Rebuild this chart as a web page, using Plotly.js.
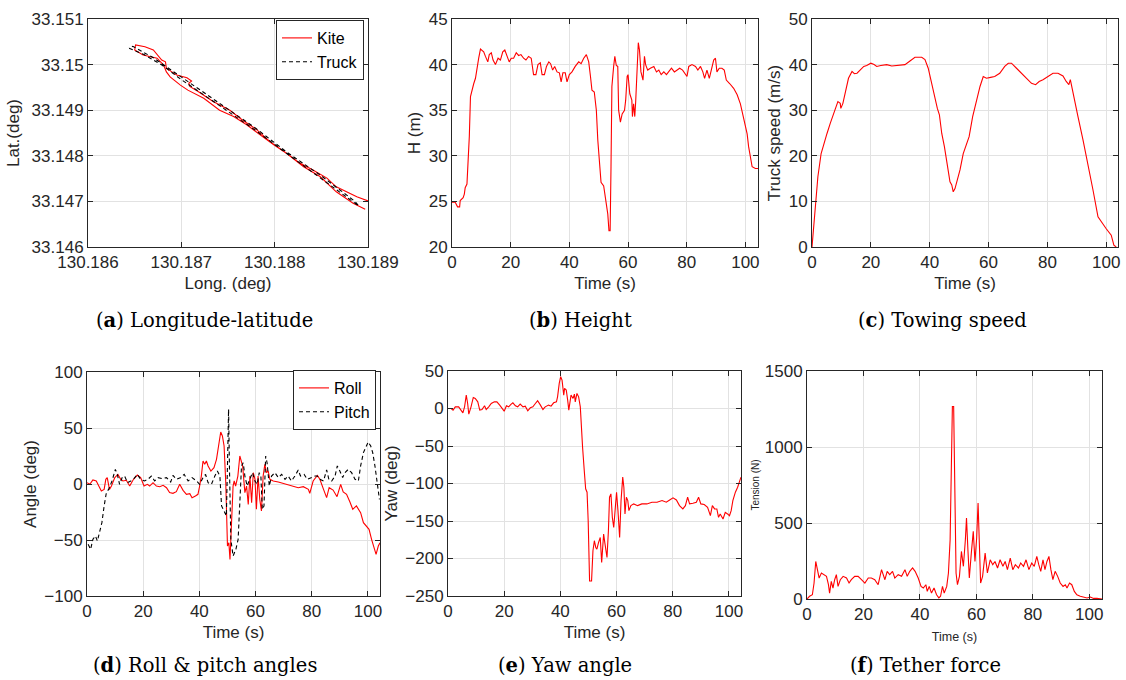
<!DOCTYPE html>
<html>
<head>
<meta charset="utf-8">
<script src="https://cdn.plot.ly/plotly-3.0.1.min.js"></script>
<style>html,body{margin:0;padding:0;background:#fff;}#chart{width:1126px;height:680px;}</style>
</head>
<body>
<div id="chart"></div>
<script>
// ---------- (a) Longitude-latitude ----------
const kiteLong = [130.18897,130.18884,130.18866,130.18849,130.18831,130.18813,130.18799,130.18784,130.18770,130.18756,130.18741,130.18724,130.18707,130.18699,130.18688,130.18684,130.18681,130.18674,130.18659,130.18650,130.18651,
  130.18661,130.18670,130.18679,130.18683,130.18684,130.18695,130.18706,130.18711,130.18708,130.18709,130.18718,130.18734,130.18752,130.18765,130.18781,130.18795,130.18813,130.18827,130.18841,130.18856,130.18866,130.18877,130.18888,130.18900];
const kiteLat = [33.14683,33.14696,33.14721,33.14754,33.14776,33.14805,33.14824,33.14846,33.14868,33.14886,33.14900,33.14926,33.14944,33.14955,33.14973,33.14984,33.14999,33.15014,33.15021,33.15032,33.15043,
  33.15039,33.15032,33.15010,33.15006,33.14992,33.14977,33.14971,33.14964,33.14959,33.14952,33.14941,33.14919,33.14900,33.14879,33.14857,33.14831,33.14805,33.14784,33.14769,33.14751,33.14732,33.14721,33.14710,33.14701];
const truckLong = [130.18644,130.18660,130.18680,130.18700,130.18741,130.18780,130.18813,130.18850,130.18890,130.18886,130.18850,130.18813,130.18780,130.18741,130.18700,130.18670,130.18648,130.18644];
const truckLat = [33.15036,33.15022,33.14998,33.14967,33.14910,33.14855,33.14805,33.14750,33.14690,33.14700,33.14756,33.14808,33.14860,33.14915,33.14972,33.15015,33.15040,33.15036];
const longTicks = [130.186, 130.187, 130.188, 130.189];
const longTickText = ['130.186', '130.187', '130.188', '130.189'];
const latTicks = [33.146, 33.147, 33.148, 33.149, 33.150, 33.151];
const latTickText = ['33.146', '33.147', '33.148', '33.149', '33.15', '33.151'];

// ---------- (b) Height ----------
const heightT = [0,1.1,1.9,2.6,2.8,3.8,4.2,4.5,5.1,5.5,5.9,6.3,6.8,7.4,8.0,8.5,9.1,9.7,10.8,11.4,12.2,12.7,13.4,14.0,14.8,15.7,16.5,17.3,18.0,18.8,19.5,20.2,21.0,21.9,22.7,23.5,24.4,25.2,26.1,27.0,27.8,28.6,29.3,30.1,30.7,31.5,32.2,33.0,33.6,34.3,35.0,35.8,36.6,37.2,37.8,38.6,39.2,40.0,40.9,42.0,43.2,44.0,44.9,45.8,46.6,47.2,47.7,48.5,49.2,49.7,50.2,50.8,51.7,52.5,53.1,53.5,53.9,54.2,54.5,55.1,55.5,56.0,56.5,56.8,57.4,58.0,58.8,59.2,59.7,60.0,60.6,61.3,61.5,61.9,62.3,62.6,63.1,63.5,63.9,64.4,65.1,65.6,66.0,66.7,67.6,68.8,69.7,70.5,71.3,72.2,73.1,73.9,74.8,75.8,76.7,77.6,78.6,79.5,80.1,80.7,81.8,83.0,83.8,84.7,85.5,86.1,86.9,87.7,88.6,89.2,89.8,90.3,91.1,92.0,92.8,93.5,94.7,96.0,97.2,98.3,99.2,100.0,100.6,101.1,101.7,102.3,103.4,104.3];
const heightH = [24.9,24.9,24.4,24.4,25.1,25.4,25.8,26.5,26.9,29.5,32.1,36.5,37.2,37.9,38.5,39.8,40.7,41.7,41.4,40.9,40.3,41.1,41.3,40.5,40.0,40.7,40.5,41.4,41.6,40.9,40.3,40.7,40.7,41.3,41.0,41.1,40.7,40.5,40.9,40.7,38.9,38.9,40.0,40.2,38.9,38.9,39.8,40.3,40.1,39.4,39.8,39.2,39.1,38.1,39.1,39.1,38.1,38.9,39.2,39.8,40.3,40.1,40.7,41.1,40.3,38.7,37.2,37.0,35.0,31.7,29.9,27.1,26.7,25.1,23.6,21.8,21.8,28.8,37.6,39.8,40.9,39.9,39.8,35.0,33.7,34.6,35.0,36.1,38.7,38.9,36.8,36.1,34.3,35.7,34.3,35.9,39.8,42.4,41.6,39.2,38.3,40.9,40.0,39.4,39.6,39.8,39.2,39.4,38.9,39.2,38.9,39.2,39.6,39.2,39.4,39.6,39.4,39.0,38.7,39.8,40.0,39.8,39.4,39.8,39.2,38.5,39.4,38.5,39.8,40.5,40.7,39.2,39.6,39.6,39.4,38.3,37.9,37.4,36.7,35.7,34.4,33.2,32.4,31.0,29.7,28.8,28.6,28.6];

// ---------- (c) Towing speed ----------
const speedT = [0,0.6,1.1,2.0,3.1,4.0,5.1,6.2,7.3,8.2,8.8,9.6,9.8,10.5,11.3,12.4,13.6,14.4,15.3,16.4,17.6,18.6,20.0,21.1,22.0,23.4,25.4,27.1,28.8,31.6,33.3,35.0,37.3,38.4,39.5,40.7,41.8,42.6,43.3,44.1,45.0,46.0,46.9,47.5,48.0,48.6,49.4,50.3,51.4,52.5,53.4,54.6,56.0,57.1,58.2,59.3,60.7,62.1,63.8,65.5,66.7,67.8,69.5,71.2,72.9,74.6,76.0,77.2,78.5,80.2,81.9,83.6,85.3,86.4,87.3,87.8,88.7,90.4,92.1,93.8,95.5,97.2,98.3,100.0,101.7,102.6,103.4];
const speedV = [0,4.4,9.5,15.4,20.5,22.7,24.9,27.1,29.3,31.2,31.9,31.5,30.4,31.5,33.7,37.0,38.5,38.0,38.1,38.9,39.6,39.8,40.3,40.0,39.6,39.8,40.0,39.7,39.8,40.0,40.8,41.6,41.6,41.1,39.2,35.6,33.0,30.4,29.0,24.9,22.0,17.6,14.3,13.6,12.1,12.8,14.7,16.9,20.5,22.7,24.2,28.6,32.3,35.2,37.4,37.0,37.2,37.4,38.1,39.6,40.3,40.3,39.2,38.1,37.0,35.9,35.6,36.3,36.7,37.4,38.1,38.1,37.5,36.3,35.6,36.7,33.7,28.6,23.5,18.3,12.5,6.6,5.5,4.0,2.6,0.4,0];

// ---------- (d) Roll & pitch ----------
const rollT = [0,1.0,2.1,3.3,4.2,5.1,6.1,6.7,7.2,8.0,8.7,9.9,11.0,12.0,12.8,14.0,15.2,16.4,17.9,19.1,20.3,21.5,22.3,23.5,24.7,25.9,27.1,28.3,29.4,30.6,31.8,33.0,34.2,35.4,36.6,37.4,38.6,39.5,40.1,40.7,41.3,41.9,42.5,43.1,44.1,45.2,46.1,46.9,47.6,48.2,48.8,49.4,49.8,50.0,50.5,50.9,51.4,51.7,52.0,52.4,52.9,53.7,54.4,55.4,56.2,56.8,57.4,58.0,58.6,59.2,59.8,60.3,60.9,61.5,62.1,62.7,63.3,63.9,64.5,65.1,66.3,68.1,69.9,71.6,73.4,75.2,77.0,78.8,79.3,80.5,82.0,82.9,84.2,85.3,86.2,87.6,89.0,90.3,91.2,92.4,93.6,94.6,95.9,97.4,98.4,99.5,100.4,101.3,102.2,102.9,103.7,104.3];
const rollA = [1.2,-0.3,3.6,2.7,-1.8,-6.3,-4.8,4.2,5.7,-4.8,-1.8,5.7,8.6,4.2,2.7,3.3,-1.8,3.6,8.0,5.7,-1.8,-0.3,-1.8,1.2,-1.8,-2.4,-1.2,-3.3,-7.7,-8.3,-6.8,-0.3,-5.7,-9.2,-8.6,-12.2,-10.7,-9.2,-1.8,7.1,20.5,17.6,20.5,16.1,11.6,14.6,22.0,35.4,46.4,42.9,33.9,1.2,-30.1,-55.4,-52.4,-67.3,-37.5,-7.7,-1.8,2.7,-1.8,7.1,25.0,16.1,-7.7,-1.8,-18.2,7.1,-16.7,10.1,4.2,-22.6,7.1,-13.7,-24.1,7.1,17.6,10.1,11.6,4.2,2.7,1.8,0.6,-1.2,-2.4,-3.3,-2.4,-4.8,-8.3,2.7,7.7,4.2,-4.8,-12.2,-3.3,-5.4,-11.3,-0.3,-7.1,-9.2,-16.1,-22.6,-19.6,-25.6,-34.5,-37.5,-40.5,-49.4,-56.8,-62.8,-55.4,-52.4];
const pitchT = [0.4,1.3,2.1,3.0,3.7,4.5,5.3,6.1,6.9,7.7,8.9,10.1,10.8,11.6,12.5,13.4,14.4,15.6,16.7,17.9,19.1,20.5,21.7,22.9,24.1,25.3,26.7,28.3,29.8,30.6,31.8,33.4,34.6,36.0,37.4,39.0,40.1,41.3,42.2,43.1,44.3,45.5,46.4,47.3,47.9,48.8,49.6,50.0,50.4,50.7,51.2,52.0,53.0,53.8,54.4,55.0,55.6,56.2,57.0,57.9,58.9,59.8,60.6,61.3,61.9,62.4,63.0,63.6,64.1,64.9,65.7,66.9,68.1,69.3,70.5,71.6,72.8,74.0,75.2,76.0,77.3,78.4,80.0,81.2,82.0,82.9,84.2,85.3,86.1,87.1,88.3,89.1,90.0,91.0,91.8,93.0,94.2,95.4,96.6,97.4,98.4,99.3,100.1,101.0,101.7,102.5,103.4,104.1];
const pitchA = [-53.9,-58.3,-49.4,-46.4,-50.9,-43.5,-34.5,-19.6,-7.7,-4.8,2.7,13.1,8.6,-0.3,5.7,7.1,1.2,2.7,4.8,8.6,4.2,2.7,4.2,7.1,2.7,5.7,4.8,5.7,1.8,7.7,4.2,5.7,8.6,2.7,5.7,2.7,-0.3,5.7,8.6,1.2,-0.3,7.1,11.6,7.1,-19.6,-24.1,-28.6,16.1,66.7,16.1,-49.4,-64.3,-58.3,-49.4,-19.6,16.1,19.0,7.1,-1.8,4.2,10.1,2.7,-0.3,10.1,7.1,-22.6,-19.6,25.0,19.0,-1.8,7.1,10.1,5.7,8.6,4.2,7.1,2.7,7.1,12.5,7.1,8.6,4.2,5.7,7.1,7.1,4.2,2.7,12.5,4.2,2.7,7.1,16.1,11.6,5.7,10.1,13.1,10.1,4.2,2.7,16.1,28.0,32.4,37.5,33.9,28.0,16.1,-1.8,-13.7];

// ---------- (e) Yaw ----------
const yawT = [0,1.1,1.8,2.6,3.8,4.6,5.3,5.9,6.5,7.0,7.4,8.2,9.0,9.7,10.6,11.3,12.1,13.0,13.6,14.5,15.4,16.5,17.4,18.4,19.6,20.0,20.8,21.6,22.4,23.1,24.0,24.8,25.7,26.7,27.5,28.4,29.3,30.2,31.1,31.9,32.9,33.8,34.6,35.8,36.7,37.6,38.6,39.0,39.6,40.1,40.6,41.2,41.5,42.1,42.6,43.0,43.8,44.5,45.0,45.3,45.9,46.5,47.1,47.4,47.9,48.5,49.0,49.5,49.9,50.4,51.1,51.6,52.1,52.6,53.0,53.6,54.2,54.7,55.4,55.9,56.6,57.1,57.5,58.0,58.5,59.0,59.5,60.0,60.5,61.1,61.6,62.2,62.6,63.0,63.5,64.0,64.4,65.1,66.1,67.5,69.0,70.8,72.6,74.4,76.2,77.7,78.9,80.1,81.3,82.4,83.6,84.5,85.3,86.0,87.2,88.4,89.2,90.0,91.2,92.4,93.4,94.1,94.9,95.7,96.3,96.9,97.9,98.7,99.5,100.2,100.8,101.4,102.3,103.1,104.3];
const yawA = [0,0,-2.2,2.2,2.2,-2.2,-5.8,2.2,17.9,6.7,-7.6,2.2,14.7,13.4,8.9,-2.2,-1.3,3.6,-1.3,2.2,6.7,8.9,8.9,4.5,-2.2,-3.6,3.6,2.2,5.4,7.6,3.6,2.2,5.8,2.2,3.1,-3.1,0.9,2.2,6.7,10.3,4.5,-1.3,2.2,4.5,3.1,7.6,8.9,15.6,33.5,42.4,37.9,17.9,26.8,24.6,11.2,-2.2,17.9,13.4,19.2,8.9,20.1,15.6,2.2,-24.6,-51.3,-82.6,-107.1,-111.6,-149.6,-229.9,-229.9,-189.7,-176.3,-185.3,-187.5,-178.6,-171.9,-205.4,-167.4,-180.8,-198.7,-162.9,-118.3,-113.8,-145.1,-158.5,-127.2,-111.6,-136.2,-171.9,-122.8,-91.5,-104.9,-140.6,-118.3,-122.8,-136.2,-129.5,-127.2,-129.5,-127.2,-127.2,-125.0,-125.0,-122.8,-125.0,-121.9,-119.2,-121.9,-129.5,-133.9,-129.5,-118.3,-127.2,-126.3,-125.0,-118.3,-127.2,-128.1,-131.7,-142.9,-129.5,-133.9,-133.9,-145.1,-140.6,-147.3,-138.4,-140.6,-142.9,-136.2,-122.8,-111.6,-104.9,-91.5];

// ---------- (f) Tether force ----------
const tensionT = [0,0.9,1.9,2.5,3.1,3.7,4.3,5.1,5.9,6.9,7.6,8.0,8.6,9.2,9.8,10.4,11.0,11.8,12.8,14.0,14.9,15.7,16.9,18.1,19.3,20.5,21.7,22.8,24.0,25.2,26.4,27.6,28.4,29.3,30.3,31.1,32.3,33.5,34.7,35.5,36.4,37.4,38.3,39.4,40.4,41.2,42.1,42.6,43.3,44.1,45.0,45.9,46.7,47.3,48.0,48.6,49.5,50.1,50.7,51.1,51.5,51.95,52.3,52.8,53.3,54.0,54.7,55.4,56.1,56.5,57.0,57.5,58.2,58.9,59.5,60.1,60.6,61.1,61.5,62.2,63.1,63.9,64.9,65.8,66.6,67.5,68.4,69.4,70.2,71.0,72.0,72.9,73.8,74.9,75.7,76.7,77.6,78.6,79.6,80.5,81.4,82.1,82.8,83.6,84.3,85.0,85.7,86.4,87.1,87.9,88.8,89.7,90.7,91.5,92.1,93.0,93.8,94.7,95.6,96.8,98.0,99.2,100.4,101.5,102.7,104.5];
const tensionN = [0,18,28,105,247,193,138,171,160,149,94,39,116,72,127,160,83,127,149,138,105,127,149,149,127,105,138,138,127,94,193,127,182,160,182,138,160,149,193,149,182,204,182,138,83,72,94,50,83,39,72,28,7,18,83,39,83,171,390,828,1266,1266,718,171,94,149,313,215,390,532,324,138,302,445,247,401,631,390,105,149,302,171,258,226,247,204,258,215,247,193,269,193,226,204,237,215,258,193,237,215,280,226,182,258,193,247,280,193,127,182,149,105,83,94,72,105,94,50,28,18,13,7,13,4,4,0];

// ---------- captions ----------
const captions = ['(<b>a</b>) Longitude-latitude','(<b>b</b>) Height','(<b>c</b>) Towing speed','(<b>d</b>) Roll &amp; pitch angles','(<b>e</b>) Yaw angle','(<b>f</b>) Tether force'];

const W = 1126, H = 680;
const fx = p => p / W, fy = p => 1 - p / H;
const RED = '#ff0000', AX = '#262626', GRID = '#e2e2e2';
const SANS = 'Liberation Sans, Arial, Helvetica, sans-serif';
const DASH = '4px,3px';

function axis(domainPx, range, dtick, extra) {
  return Object.assign({
    domain: domainPx, range: range, dtick: dtick, tick0: 0,
    showline: true, mirror: 'ticks', linecolor: AX, linewidth: 1,
    ticks: 'inside', ticklen: 5, tickcolor: AX, tickwidth: 1,
    showgrid: true, gridcolor: GRID, gridwidth: 1, zeroline: false,
    tickfont: {family: SANS, size: 17, color: AX}
  }, extra || {});
}
function ttl(text, standoff, size) {
  return {text: text, standoff: standoff, font: {family: SANS, size: size || 17, color: AX}};
}

const line = (x, y, xa, ya, name, color, dash, legend, show) => ({
  type: 'scatter', mode: 'lines', x: x, y: y, xaxis: xa, yaxis: ya, name: name,
  line: {color: color, width: 1.1, dash: dash || 'solid'}, showlegend: !!show, legend: legend || 'legend',
  hoverinfo: 'skip'
});

const data = [
  line(kiteLong, kiteLat, 'x', 'y', 'Kite', RED, 'solid', 'legend', true),
  line(truckLong, truckLat, 'x', 'y', 'Truck', '#000000', DASH, 'legend', true),
  line(heightT, heightH, 'x2', 'y2', 'H', RED),
  line(speedT, speedV, 'x3', 'y3', 'Speed', RED),
  line(rollT, rollA, 'x4', 'y4', 'Roll', RED, 'solid', 'legend2', true),
  line(pitchT, pitchA, 'x4', 'y4', 'Pitch', '#000000', DASH, 'legend2', true),
  line(yawT, yawA, 'x5', 'y5', 'Yaw', RED),
  line(tensionT, tensionN, 'x6', 'y6', 'Tension', RED)
];

const topY = [fy(247), fy(19)];
const layout = {
  width: W, height: H, margin: {l: 0, r: 0, t: 0, b: 0},
  paper_bgcolor: '#ffffff', plot_bgcolor: '#ffffff',
  font: {family: SANS, color: AX},
  xaxis: axis([fx(88), fx(368)], [130.186, 130.189], null, {tickmode: 'array', tickvals: longTicks, ticktext: longTickText, anchor: 'y', title: ttl('Long. (deg)', 5)}),
  yaxis: axis(topY, [33.146, 33.151], null, {tickmode: 'array', tickvals: latTicks, ticktext: latTickText, anchor: 'x', title: ttl('Lat.(deg)', 7)}),
  xaxis2: axis([fx(452), fx(758)], [0, 104.3], 20, {anchor: 'y2', title: ttl('Time (s)', 5)}),
  yaxis2: axis(topY, [20, 45], 5, {anchor: 'x2', title: ttl('H (m)', 3)}),
  xaxis3: axis([fx(812), fx(1118)], [0, 104], 20, {anchor: 'y3', title: ttl('Time (s)', 5)}),
  yaxis3: axis(topY, [0, 50], 10, {anchor: 'x3', title: ttl('Truck speed (m/s)', 3)}),
  xaxis4: axis([fx(87), fx(380)], [0, 104.3], 20, {anchor: 'y4', title: ttl('Time (s)', 5)}),
  yaxis4: axis([fy(596), fy(372)], [-100, 100], 50, {anchor: 'x4', title: ttl('Angle (deg)', 3)}),
  xaxis5: axis([fx(448), fx(741)], [0, 104.3], 20, {anchor: 'y5', title: ttl('Time (s)', 5)}),
  yaxis5: axis([fy(596), fy(371)], [-250, 50], 50, {anchor: 'x5', title: ttl('Yaw (deg)', 3)}),
  xaxis6: axis([fx(807), fx(1102)], [0, 104.5], 20, {anchor: 'y6', title: ttl('Time (s)', 8, 12.5)}),
  yaxis6: axis([fy(599), fy(371)], [0, 1500], 500, {anchor: 'x6', title: ttl('Tension (N)', 3, 10)}),
  legend: {x: fx(364), y: fy(20), xanchor: 'right', yanchor: 'top', bgcolor: '#ffffff', bordercolor: AX, borderwidth: 1,
           font: {family: SANS, size: 16, color: '#000'}, itemwidth: 30, tracegroupgap: 0},
  legend2: {x: fx(376), y: fy(370), xanchor: 'right', yanchor: 'top', bgcolor: '#ffffff', bordercolor: AX, borderwidth: 1,
           font: {family: SANS, size: 16, color: '#000'}, itemwidth: 30, tracegroupgap: 0},
  annotations: []
};

const capPos = [[204, 320], [580, 320], [942, 320], [205, 665], [565, 665], [925, 665]];
captions.forEach((c, i) => {
  layout.annotations.push({
    text: c, xref: 'paper', yref: 'paper', x: fx(capPos[i][0]), y: fy(capPos[i][1]),
    xanchor: 'center', yanchor: 'middle', showarrow: false,
    font: {family: 'DejaVu Serif, Liberation Serif, serif', size: 19.5, color: '#000'}
  });
});

Plotly.newPlot('chart', data, layout, {staticPlot: true, displayModeBar: false});
</script>
</body>
</html>
